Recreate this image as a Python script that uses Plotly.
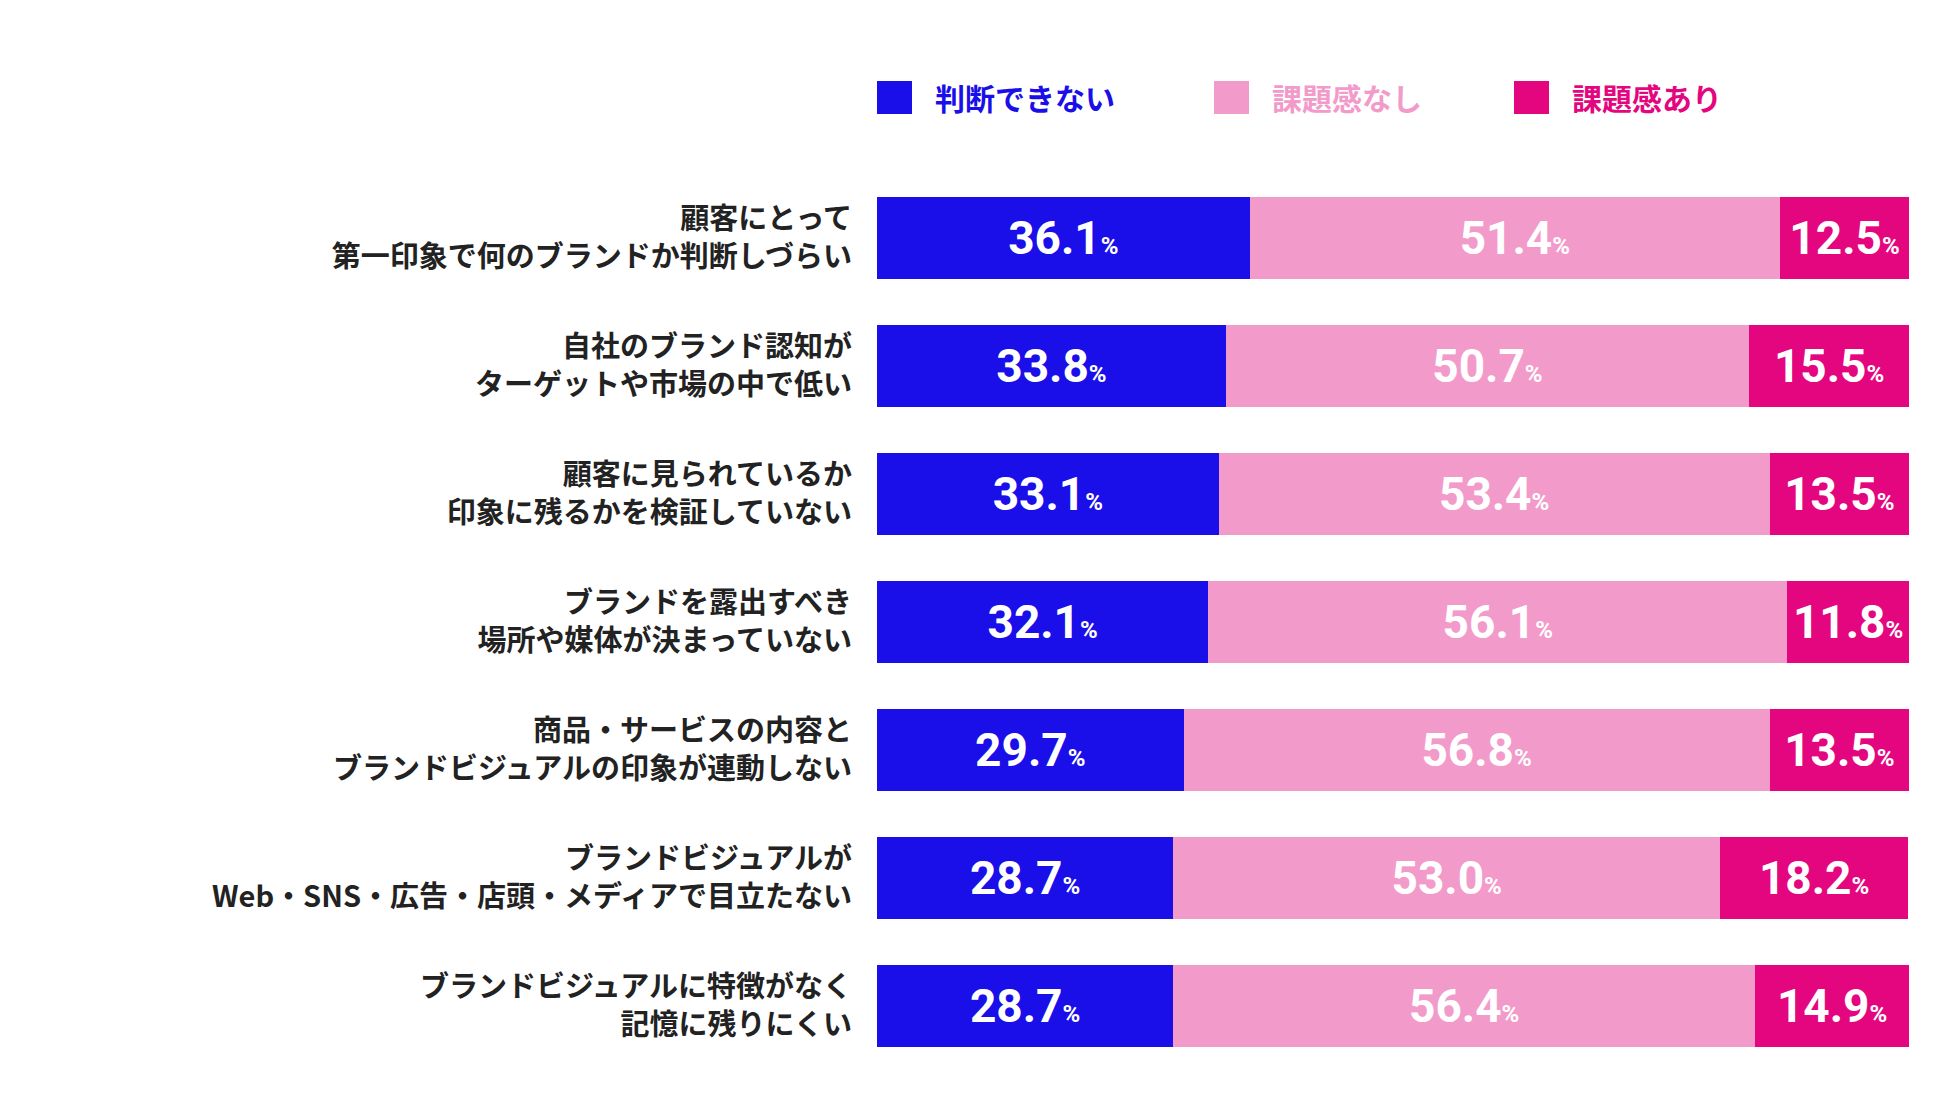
import plotly.graph_objects as go

categories = [
    "顧客にとって<br>第一印象で何のブランドか判断しづらい",
    "自社のブランド認知が<br>ターゲットや市場の中で低い",
    "顧客に見られているか<br>印象に残るかを検証していない",
    "ブランドを露出すべき<br>場所や媒体が決まっていない",
    "商品・サービスの内容と<br>ブランドビジュアルの印象が連動しない",
    "ブランドビジュアルが<br>Web・SNS・広告・店頭・メディアで目立たない",
    "ブランドビジュアルに特徴がなく<br>記憶に残りにくい",
]
series_names = ["判断できない", "課題感なし", "課題感あり"]
hanndan = [36.1, 33.8, 33.1, 32.1, 29.7, 28.7, 28.7]
nashi = [51.4, 50.7, 53.4, 56.1, 56.8, 53.0, 56.4]
ari = [12.5, 15.5, 13.5, 11.8, 13.5, 18.2, 14.9]
colors = ["#1a0fe8", "#f29bca", "#e4067f"]

FONT = "Noto Sans CJK JP"
fig = go.Figure()
for name, vals, col in zip(series_names, [hanndan, nashi, ari], colors):
    fig.add_trace(go.Bar(
        y=categories, x=vals, orientation="h", name=name,
        marker=dict(color=col, line=dict(width=0)),
        text=[f"<b>{v:.1f}</b><span style='font-size:24px'><b>%</b></span>" for v in vals],
        textposition="inside", insidetextanchor="middle",
        textfont=dict(color="white", size=46, family="Roboto"),
        hoverinfo="skip", showlegend=False,
    ))

W, H = 1950, 1097
L, R, T, B = 869, 49, 166, 35
pw, ph = W - L - R, H - T - B
def px(x): return (x - L) / pw
def py(y): return (H - B - y) / ph

sq_x = [869, 1206, 1506]
for name, col, sx in zip(series_names, colors, sq_x):
    fig.add_shape(type="rect", xref="paper", yref="paper",
                  x0=px(sx), x1=px(sx + 35), y0=py(106), y1=py(73),
                  fillcolor=col, line=dict(width=0))
    fig.add_annotation(xref="paper", yref="paper", x=px(sx + 56), y=py(89),
                       xanchor="left", yanchor="middle", showarrow=False,
                       text=f"<b>{name}</b>", font=dict(size=30, family=FONT, color=col))

fig.update_layout(
    barmode="stack", bargap=0.36,
    width=W, height=H,
    paper_bgcolor="white", plot_bgcolor="white",
    margin=dict(l=L, r=R, t=T, b=B),
    font=dict(family=FONT, color="#222"),
    showlegend=False,
    xaxis=dict(range=[0, 100], visible=False, fixedrange=True),
    yaxis=dict(autorange="reversed", tickfont=dict(size=29, family=FONT, color="#222"),
               showgrid=False, ticks="", ticklabelstandoff=24, automargin=False,
               tickmode="array", tickvals=categories,
               ticktext=["<b>" + c.replace("<br>", "</b><br><b>") + "</b>" for c in categories]),
)
fig.write_html("out.html")
